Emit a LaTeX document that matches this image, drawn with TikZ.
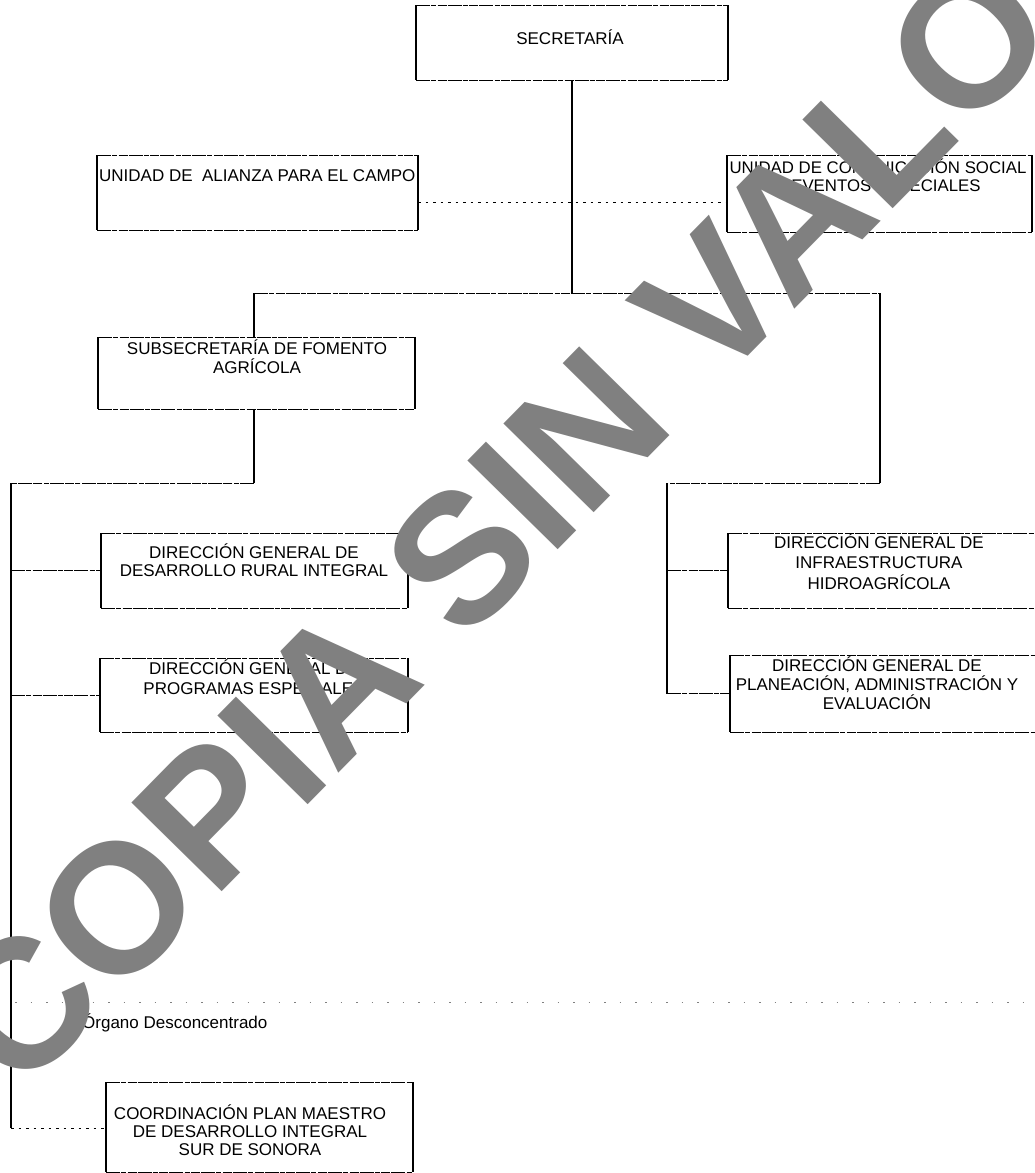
\documentclass[tikz,border=0pt]{standalone}
\usepackage{fontspec}
\setmainfont{Liberation Sans}
\definecolor{wm}{RGB}{128,128,128}
\newcommand\obox[1]{%
  \draw[hl] (#1.north west) -- (#1.north east) (#1.south west) -- (#1.south east);
  \draw[vl] (#1.north west) -- (#1.south west) (#1.north east) -- (#1.south east);}
\begin{document}
\begin{tikzpicture}[x=1pt,y=-1pt,
  hl/.style={line width=0.9pt, dash pattern=on 14pt off 1.2pt on 5pt off 1.5pt on 9pt off 1pt},
  vl/.style={line width=1.1pt},
  dl/.style={line width=0.7pt, dash pattern=on 2.5pt off 5pt},
  od/.style={line width=0.6pt, wm, dash pattern=on 1.5pt off 14pt},
  bx/.style={inner sep=0pt, outer sep=0pt},
  tx/.style={inner sep=0pt, align=center, anchor=north},
]
\useasboundingbox (0,0) rectangle (1035,1173);
\clip (0,0) rectangle (1035,1173);
\fill[white] (0,0) rectangle (1035,1173);

% boxes
\node[bx, minimum width=312pt, minimum height=75pt] (sec) at (572,42.5) {};
\node[bx, minimum width=321pt, minimum height=75pt] (ali) at (257.5,192.5) {};
\node[bx, minimum width=305pt, minimum height=77pt] (com) at (879.5,193.5) {};
\node[bx, minimum width=317pt, minimum height=72pt] (sub) at (256.5,373) {};
\node[bx, minimum width=307pt, minimum height=75pt] (des) at (254.5,570.5) {};
\node[bx, minimum width=308pt, minimum height=74pt] (pro) at (254,695) {};
\node[bx, minimum width=308pt, minimum height=75pt] (inf) at (882,570.5) {};
\node[bx, minimum width=306pt, minimum height=77pt] (pla) at (883,693.5) {};
\node[bx, minimum width=307pt, minimum height=90pt] (coo) at (259.5,1127) {};
\obox{sec}\obox{ali}\obox{com}\obox{sub}\obox{des}\obox{pro}\obox{inf}\obox{pla}\obox{coo}

% texts
\node[tx, font=\fontsize{17}{19}\selectfont] (secT) at (570,28) {\rule{0pt}{16pt}SECRETARÍA};
\node[tx, anchor=north west, align=left, font=\fontsize{17}{19}\selectfont] (aliT) at (99,165) {\rule{0pt}{16pt}UNIDAD DE\ \ ALIANZA PARA EL CAMPO};
\node[tx, font=\fontsize{16.8}{18}\selectfont] (comT) at (878,157) {\rule{0pt}{16pt}UNIDAD DE COMUNICACIÓN SOCIAL\\Y EVENTOS ESPECIALES};
\node[tx, font=\fontsize{17}{19}\selectfont] (subT) at (257,338) {\rule{0pt}{16pt}SUBSECRETARÍA DE FOMENTO\\AGRÍCOLA};
\node[tx, font=\fontsize{17}{18}\selectfont] (desT) at (254,542) {\rule{0pt}{16pt}DIRECCIÓN GENERAL DE\\DESARROLLO RURAL INTEGRAL};
\node[tx, font=\fontsize{17}{20}\selectfont] (proT) at (254,658) {\rule{0pt}{16pt}DIRECCIÓN GENERAL DE\\PROGRAMAS ESPECIALES};
\node[tx, font=\fontsize{17}{20.5}\selectfont] (infT) at (879,532) {\rule{0pt}{16pt}DIRECCIÓN GENERAL DE\\INFRAESTRUCTURA\\HIDROAGRÍCOLA};
\node[tx, font=\fontsize{17}{19}\selectfont] (plaT) at (877,655) {\rule{0pt}{16pt}DIRECCIÓN GENERAL DE\\PLANEACIÓN, ADMINISTRACIÓN Y\\EVALUACIÓN};
\node[tx, font=\fontsize{17}{18}\selectfont] (cooT) at (250,1103) {\rule{0pt}{16pt}COORDINACIÓN PLAN MAESTRO\\DE DESARROLLO INTEGRAL\\SUR DE SONORA};
\node[inner sep=0pt, anchor=base west, font=\fontsize{17}{19}\selectfont] (orgT) at (82,1028) {Órgano Desconcentrado};

% connectors
\coordinate (jT) at (572,293);
\coordinate (jL) at (254,293);
\coordinate (jR) at (880,293);
\coordinate (jR2) at (880,483);
\coordinate (jR3) at (667,483);
\coordinate (jS) at (254,483);
\coordinate (jLL) at (11,483);
\coordinate (jB) at (11,1128);
\coordinate (f1) at (15,1002);
\coordinate (f2) at (1035,1002);

\draw[vl] (sec.south) -- (jT);
\draw[hl] (jL) -- (jR);
\draw[vl] (jL) -- (jL |- sub.north);
\draw[vl] (jR) -- (jR2);
\draw[hl] (jR2) -- (jR3);
\draw[vl] (jR3) -- (jR3 |- pla.west);
\draw[hl] (jR3 |- inf.west) -- (inf.west);
\draw[hl] (jR3 |- pla.west) -- (pla.west);
\draw[vl] (jS |- sub.south) -- (jS);
\draw[hl] (jS) -- (jLL);
\draw[vl] (jLL) -- (jB);
\draw[dl] (jB) -- (jB -| coo.west);
\draw[hl] (jLL |- des.west) -- (des.west);
\draw[hl] (jLL |- pro.west) -- (pro.west);
\draw[dl] ([yshift=-9.5pt]ali.east) -- ([yshift=-9.5pt]ali.east -| com.west);
\draw[od] (f1) -- (f2);

% watermark
\node[rotate=45.5, text=wm, inner sep=0pt, font=\bfseries\fontsize{184}{184}\selectfont] (wmk) at (543,475) {COPIA SIN VALOR};
\end{tikzpicture}
\end{document}
